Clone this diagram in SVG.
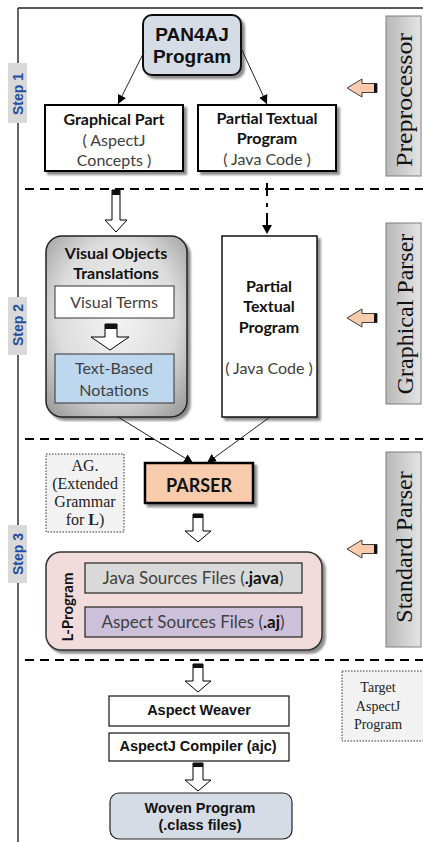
<svg xmlns="http://www.w3.org/2000/svg" width="423" height="842" viewBox="0 0 423 842">
  <defs>
    <style>
      .cal { font-family: Lato, "Open Sans", sans-serif; fill: #111; }
      .calb { font-family: Lato, "Open Sans", sans-serif; font-weight: bold; fill: #111; }
      .cap { font-family: Lato, "Open Sans", sans-serif; fill: #404040; }
      .ar { font-family: "Liberation Sans", Arial, sans-serif; font-weight: bold; fill: #111; }
      .ser { font-family: "Liberation Serif", "Times New Roman", serif; fill: #222; }
      .side { font-family: "Liberation Serif", "Times New Roman", serif; font-size: 24px; fill: #111; }
      .step { font-family: "Liberation Sans", Arial, sans-serif; font-weight: bold; font-size: 14px; fill: #1f4ea0; }
      .box { fill: #fff; stroke: #000; stroke-width: 2; }
      .sep { stroke: #000; stroke-width: 2; stroke-dasharray: 9 6; fill: none; }
      .conn { stroke: #222; stroke-width: 1; fill: none; }
      .hollow { fill: #fff; stroke: #000; stroke-width: 1; }
      .sidebox { fill: url(#sideGrad); stroke: #7f7f7f; stroke-width: 1; }
      .stepbox { fill: #d9d9d9; }
      .note { fill: #f2f2f2; stroke: #333; stroke-width: 1; stroke-dasharray: 1.5 1.5; }
    </style>
    <linearGradient id="sideGrad" x1="0" y1="0" x2="1" y2="0">
      <stop offset="0" stop-color="#b8b8b8"/>
      <stop offset="1" stop-color="#e4e4e4"/>
    </linearGradient>
    <radialGradient id="vgGrad" cx="0.5" cy="0.45" r="0.7">
      <stop offset="0" stop-color="#f4f4f4"/>
      <stop offset="0.6" stop-color="#dcdcdc"/>
      <stop offset="1" stop-color="#9c9c9c"/>
    </radialGradient>
    <filter id="shadow" x="-10%" y="-10%" width="130%" height="130%">
      <feDropShadow dx="3" dy="3" stdDeviation="1.2" flood-color="#000" flood-opacity="0.45"/>
    </filter>
    <marker id="tip" viewBox="0 0 10 10" refX="10" refY="5" markerWidth="9" markerHeight="9" markerUnits="userSpaceOnUse" orient="auto">
      <path d="M0,0 L10,5 L0,10 Z" fill="#000"/>
    </marker>
    <!-- small hollow down arrow with dark cap -->
    <g id="dn">
      <path class="hollow" d="M-5,0 H5 V17 H13 L0,28 L-13,17 H-5 Z"/>
      <rect x="-5" y="0" width="10" height="4" fill="#111"/>
    </g>
    <!-- peach arrow pointing left -->
    <g id="la">
      <path d="M0,0 L15,-9 V-4.5 H30 V4.5 H15 V9 Z" fill="#f8cbad" stroke="#404040" stroke-width="1"/>
      <rect x="27" y="-4.5" width="3" height="9" fill="#111"/>
    </g>
  </defs>

  <rect width="423" height="842" fill="#fff"/>

  <!-- frame -->
  <line x1="18" y1="8" x2="423" y2="8" stroke="#595959" stroke-width="2"/>
  <line x1="18" y1="8" x2="18" y2="842" stroke="#333" stroke-width="1.5"/>

  <!-- stage separators -->
  <g id="separators">
    <line class="sep" x1="25" y1="189" x2="423" y2="189"/>
    <line class="sep" x1="25" y1="439" x2="423" y2="439"/>
    <line class="sep" x1="25" y1="660" x2="423" y2="660"/>
  </g>

  <!-- step labels -->
  <g id="step1">
    <rect class="stepbox" x="8" y="63" width="19" height="60"/>
    <text class="step" transform="translate(23,94) rotate(-90)" text-anchor="middle">Step 1</text>
  </g>
  <g id="step2">
    <rect class="stepbox" x="8" y="297" width="19" height="58"/>
    <text class="step" transform="translate(23,325) rotate(-90)" text-anchor="middle">Step 2</text>
  </g>
  <g id="step3">
    <rect class="stepbox" x="8" y="525" width="19" height="58"/>
    <text class="step" transform="translate(23,554) rotate(-90)" text-anchor="middle">Step 3</text>
  </g>

  <!-- side phase labels -->
  <g id="preprocessor">
    <rect class="sidebox" x="386" y="16" width="35" height="160"/>
    <text class="side" transform="translate(412,100) rotate(-90)" text-anchor="middle" textLength="134" lengthAdjust="spacingAndGlyphs">Preprocessor</text>
  </g>
  <g id="graphical-parser">
    <rect class="sidebox" x="386" y="223" width="35" height="181"/>
    <text class="side" transform="translate(413,314) rotate(-90)" text-anchor="middle">Graphical Parser</text>
  </g>
  <g id="standard-parser">
    <rect class="sidebox" x="386" y="452" width="35" height="195"/>
    <text class="side" transform="translate(412,547) rotate(-90)" text-anchor="middle">Standard Parser</text>
  </g>

  <!-- step 1 nodes -->
  <g id="pan4aj">
    <rect x="143" y="15" width="98" height="60" rx="9" fill="#d6dce5" stroke="#111" stroke-width="2" filter="url(#shadow)"/>
    <text class="ar" x="192" y="41" font-size="19" text-anchor="middle">PAN4AJ</text>
    <text class="ar" x="192" y="63" font-size="19" text-anchor="middle">Program</text>
  </g>
  <g id="graphical-part">
    <rect class="box" x="45" y="105" width="138" height="66" filter="url(#shadow)"/>
    <text class="calb" x="114" y="125" font-size="16" text-anchor="middle">Graphical Part</text>
    <text class="cap" x="114" y="146" font-size="16" text-anchor="middle">( AspectJ</text>
    <text class="cap" x="114" y="166" font-size="16" text-anchor="middle">Concepts )</text>
  </g>
  <g id="partial-textual-1">
    <rect class="box" x="198" y="105" width="138" height="66" filter="url(#shadow)"/>
    <text class="calb" x="267" y="124" font-size="16" text-anchor="middle">Partial Textual</text>
    <text class="calb" x="267" y="144" font-size="16" text-anchor="middle">Program</text>
    <text class="cap" x="267" y="165" font-size="16" text-anchor="middle">( Java Code )</text>
  </g>

  <!-- step 2 nodes -->
  <g id="visual-objects">
    <rect x="46" y="236" width="141" height="181" rx="16" fill="url(#vgGrad)" stroke="#222" stroke-width="1.5" filter="url(#shadow)"/>
    <text class="calb" x="116" y="259" font-size="16" text-anchor="middle">Visual Objects</text>
    <text class="calb" x="116" y="279" font-size="16" text-anchor="middle">Translations</text>
    <g id="visual-terms">
      <rect x="55" y="286" width="119" height="32" fill="#fff" stroke="#333" stroke-width="1"/>
      <text class="cap" x="114" y="308" font-size="16" text-anchor="middle">Visual Terms</text>
    </g>
    <g id="text-based">
      <rect x="55" y="354" width="119" height="49" fill="#bdd7ee" stroke="#333" stroke-width="1"/>
      <text class="cap" x="114" y="374" font-size="16" text-anchor="middle">Text-Based</text>
      <text class="cap" x="114" y="396" font-size="16" text-anchor="middle">Notations</text>
    </g>
  </g>
  <g id="partial-textual-2">
    <rect x="222" y="236" width="95" height="181" fill="#fff" stroke="#111" stroke-width="1.5" filter="url(#shadow)"/>
    <text class="calb" x="269" y="292" font-size="16" text-anchor="middle">Partial</text>
    <text class="calb" x="269" y="312" font-size="16" text-anchor="middle">Textual</text>
    <text class="calb" x="269" y="333" font-size="16" text-anchor="middle">Program</text>
    <text class="cap" x="269" y="374" font-size="16" text-anchor="middle">( Java Code )</text>
  </g>

  <!-- step 3 nodes -->
  <g id="ag-note">
    <rect class="note" x="46" y="454" width="78" height="78"/>
    <text class="ser" x="85" y="471" font-size="16" text-anchor="middle">AG.</text>
    <text class="ser" x="85" y="489" font-size="16" text-anchor="middle">(Extended</text>
    <text class="ser" x="85" y="507" font-size="16" text-anchor="middle">Grammar</text>
    <text class="ser" x="85" y="525" font-size="16" text-anchor="middle">for <tspan font-weight="bold">L</tspan>)</text>
  </g>
  <g id="parser">
    <rect x="145" y="463" width="108" height="40" fill="#f8cbad" stroke="#000" stroke-width="2.5" filter="url(#shadow)"/>
    <text class="calb" x="199" y="492" font-size="18" text-anchor="middle">PARSER</text>
  </g>
  <g id="l-program">
    <rect x="46" y="552" width="276" height="98" rx="15" fill="#f2dcdb" stroke="#333" stroke-width="1.5" filter="url(#shadow)"/>
    <text class="calb" transform="translate(73,607) rotate(-90)" font-size="15" text-anchor="middle">L-Program</text>
    <g id="java-sources">
      <rect x="85" y="563" width="217" height="30" fill="#d9d9d9" stroke="#222" stroke-width="1.2"/>
      <text class="cap" x="193" y="584" font-size="17" text-anchor="middle">Java Sources Files (<tspan font-weight="bold" fill="#111">.java</tspan>)</text>
    </g>
    <g id="aspect-sources">
      <rect x="85" y="607" width="217" height="30" fill="#ccc0da" stroke="#222" stroke-width="1.2"/>
      <text class="cap" x="193" y="628" font-size="17" text-anchor="middle">Aspect Sources Files (<tspan font-weight="bold" fill="#111">.aj</tspan>)</text>
    </g>
  </g>

  <!-- weaving and compilation -->
  <g id="aspect-weaver">
    <rect x="109" y="696" width="180" height="30" fill="#fff" stroke="#111" stroke-width="1.2"/>
    <text class="ar" x="199" y="715" font-size="14.5" text-anchor="middle">Aspect Weaver</text>
  </g>
  <g id="ajc">
    <rect x="109" y="733" width="180" height="28" fill="#fff" stroke="#111" stroke-width="1.2"/>
    <text class="ar" x="198" y="751" font-size="14.5" text-anchor="middle">AspectJ Compiler (ajc)</text>
  </g>
  <g id="woven-program">
    <rect x="110" y="793" width="182" height="46" rx="9" fill="#d6dce5" stroke="#222" stroke-width="1.2"/>
    <text class="ar" x="200" y="813" font-size="14.5" text-anchor="middle">Woven Program</text>
    <text class="ar" x="200" y="830" font-size="14.5" text-anchor="middle">(.class files)</text>
  </g>
  <g id="target-note">
    <rect class="note" x="342" y="671" width="84" height="70"/>
    <text class="ser" x="378" y="692" font-size="14" text-anchor="middle">Target</text>
    <text class="ser" x="378" y="711" font-size="14" text-anchor="middle">AspectJ</text>
    <text class="ser" x="378" y="729" font-size="14" text-anchor="middle">Program</text>
  </g>

  <!-- connectors -->
  <g id="connectors">
    <line class="conn" x1="144" y1="52" x2="118" y2="104" marker-end="url(#tip)"/>
    <line class="conn" x1="241" y1="48" x2="267" y2="104" marker-end="url(#tip)"/>

    <!-- graphical part to visual objects -->
    <path class="hollow" d="M112,190 H120 V220 H127 L116,232 L105,220 H112 Z"/>
    <rect x="112" y="190" width="8" height="5" fill="#111"/>

    <!-- textual part passes straight through -->
    <line x1="267" y1="183" x2="267" y2="196" stroke="#000" stroke-width="2"/>
    <line x1="267" y1="203" x2="267" y2="207" stroke="#000" stroke-width="2"/>
    <line x1="267" y1="213" x2="267" y2="226" stroke="#000" stroke-width="2"/>
    <path d="M262,225 L272,225 L267,234 Z" fill="#000"/>

    <!-- visual terms to text-based notations -->
    <path class="hollow" d="M105,324 H117 V337 H129 L110,350 L91,337 H105 Z"/>
    <rect x="105" y="324" width="12" height="5" fill="#111"/>

    <!-- both parts into the parser -->
    <line class="conn" x1="118" y1="417" x2="193" y2="463" marker-end="url(#tip)"/>
    <line class="conn" x1="270" y1="417" x2="207" y2="463" marker-end="url(#tip)"/>

    <use href="#dn" x="198" y="514"/>
    <use href="#dn" x="198" y="664"/>
    <use href="#dn" x="198" y="763"/>

    <use href="#la" x="347" y="88"/>
    <use href="#la" x="347" y="318"/>
    <use href="#la" x="347" y="549"/>
  </g>
</svg>
